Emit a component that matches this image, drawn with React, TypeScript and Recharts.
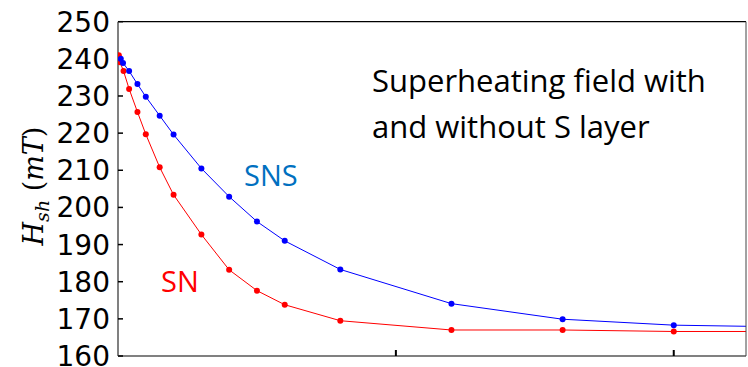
import React from 'react';
import { LineChart, Line, XAxis, YAxis } from 'recharts';

// SNS (with S layer) - blue
const snsX = [0.01, 0.018, 0.04, 0.07, 0.1, 0.15, 0.2, 0.3, 0.4, 0.5, 0.6, 0.8, 1.2, 1.6, 2.0, 2.26];
const snsH = [240.0, 238.9, 236.7, 233.2, 229.8, 224.7, 219.6, 210.5, 202.9, 196.2, 191.0, 183.3, 174.1, 169.9, 168.3, 168.0];

// SN (without S layer) - red
const snX = [0.003, 0.007, 0.02, 0.04, 0.07, 0.1, 0.15, 0.2, 0.3, 0.4, 0.5, 0.6, 0.8, 1.2, 1.6, 2.0, 2.26];
const snH = [241.0, 239.1, 236.7, 231.9, 225.7, 219.7, 210.8, 203.4, 192.7, 183.2, 177.6, 173.8, 169.5, 167.0, 167.0, 166.6, 166.6];

const yTicks = [160, 170, 180, 190, 200, 210, 220, 230, 240, 250];
const xTicks = [0, 1, 2];

const snsData = snsX.map((x, i) => ({ x, h: snsH[i] }));
const snData = snX.map((x, i) => ({ x, h: snH[i] }));

// last point only carries the line to the frame edge, no marker
const makeDot = (color: string, lastIndex: number) => (props: any) => {
    const { cx, cy, index } = props;
    if (index === lastIndex || cx == null) return <g key={`d-${index}`} />;
    return <circle key={`d-${index}`} cx={cx} cy={cy} r={3} fill={color} stroke="none" />;
};

export default function App() {
    return (
        <div style={{ position: 'relative', width: 748, height: 367, background: '#fff' }}>
            <style>{'body{margin:0}'}</style>
            <LineChart width={748} height={367} margin={{ top: 20.7, right: 0, bottom: 11, left: 0 }}>
                <XAxis
                    xAxisId="b"
                    type="number"
                    dataKey="x"
                    domain={[0, 2.26]}
                    ticks={xTicks}
                    allowDataOverflow
                    height={1}
                    mirror
                    tickSize={6}
                    tickFormatter={() => ''}
                    axisLine={{ stroke: '#808080', strokeWidth: 2 }}
                    tickLine={{ stroke: '#000', strokeWidth: 2 }}
                />
                <XAxis
                    xAxisId="t"
                    orientation="top"
                    type="number"
                    dataKey="x"
                    domain={[0, 2.26]}
                    height={1}
                    tick={false}
                    tickLine={false}
                    axisLine={{ stroke: '#000', strokeWidth: 1.2 }}
                />
                <YAxis
                    yAxisId="l"
                    type="number"
                    domain={[160, 250]}
                    ticks={yTicks}
                    interval={0}
                    width={118}
                    tickSize={-5}
                    tickMargin={13}
                    tick={{ fontSize: 28, fill: '#000', fontFamily: 'DejaVu Sans' }}
                    axisLine={{ stroke: '#808080', strokeWidth: 2 }}
                    tickLine={{ stroke: '#000', strokeWidth: 1.5 }}
                />
                <YAxis
                    yAxisId="r"
                    orientation="right"
                    type="number"
                    domain={[160, 250]}
                    width={2}
                    tick={false}
                    tickLine={false}
                    axisLine={{ stroke: '#444', strokeWidth: 1 }}
                />
                <Line
                    xAxisId="b"
                    yAxisId="l"
                    data={snData}
                    dataKey="h"
                    stroke="#ff0000"
                    strokeWidth={1}
                    dot={makeDot('#ff0000', snData.length - 1)}
                    activeDot={false}
                    isAnimationActive={false}
                />
                <Line
                    xAxisId="b"
                    yAxisId="l"
                    data={snsData}
                    dataKey="h"
                    stroke="#0000ff"
                    strokeWidth={1}
                    dot={makeDot('#0000ff', snsData.length - 1)}
                    activeDot={false}
                    isAnimationActive={false}
                />
            </LineChart>
            <svg
                width={748}
                height={367}
                style={{ position: 'absolute', left: 0, top: 0, pointerEvents: 'none' }}
            >
                <text
                    transform="translate(43, 186) rotate(-90)"
                    textAnchor="middle"
                    fontFamily="DejaVu Serif"
                    fontSize={27}
                    fill="#000"
                >
                    <tspan fontStyle="italic">H</tspan>
                    <tspan fontStyle="italic" fontSize={19} dy={6}>sh</tspan>
                    <tspan dy={-6}> (</tspan>
                    <tspan fontStyle="italic">mT</tspan>
                    <tspan>)</tspan>
                </text>
                <text x={372} y={92} fontFamily="Open Sans" fontSize={31} fill="#000">
                    Superheating field with
                </text>
                <text x={372} y={138} fontFamily="Open Sans" fontSize={31} fill="#000">
                    and without S layer
                </text>
                <text x={244} y={186} fontFamily="Open Sans" fontSize={29} fill="#0070c0">
                    SNS
                </text>
                <text x={161} y={292} fontFamily="Open Sans" fontSize={29} fill="#ff0000">
                    SN
                </text>
            </svg>
        </div>
    );
}
